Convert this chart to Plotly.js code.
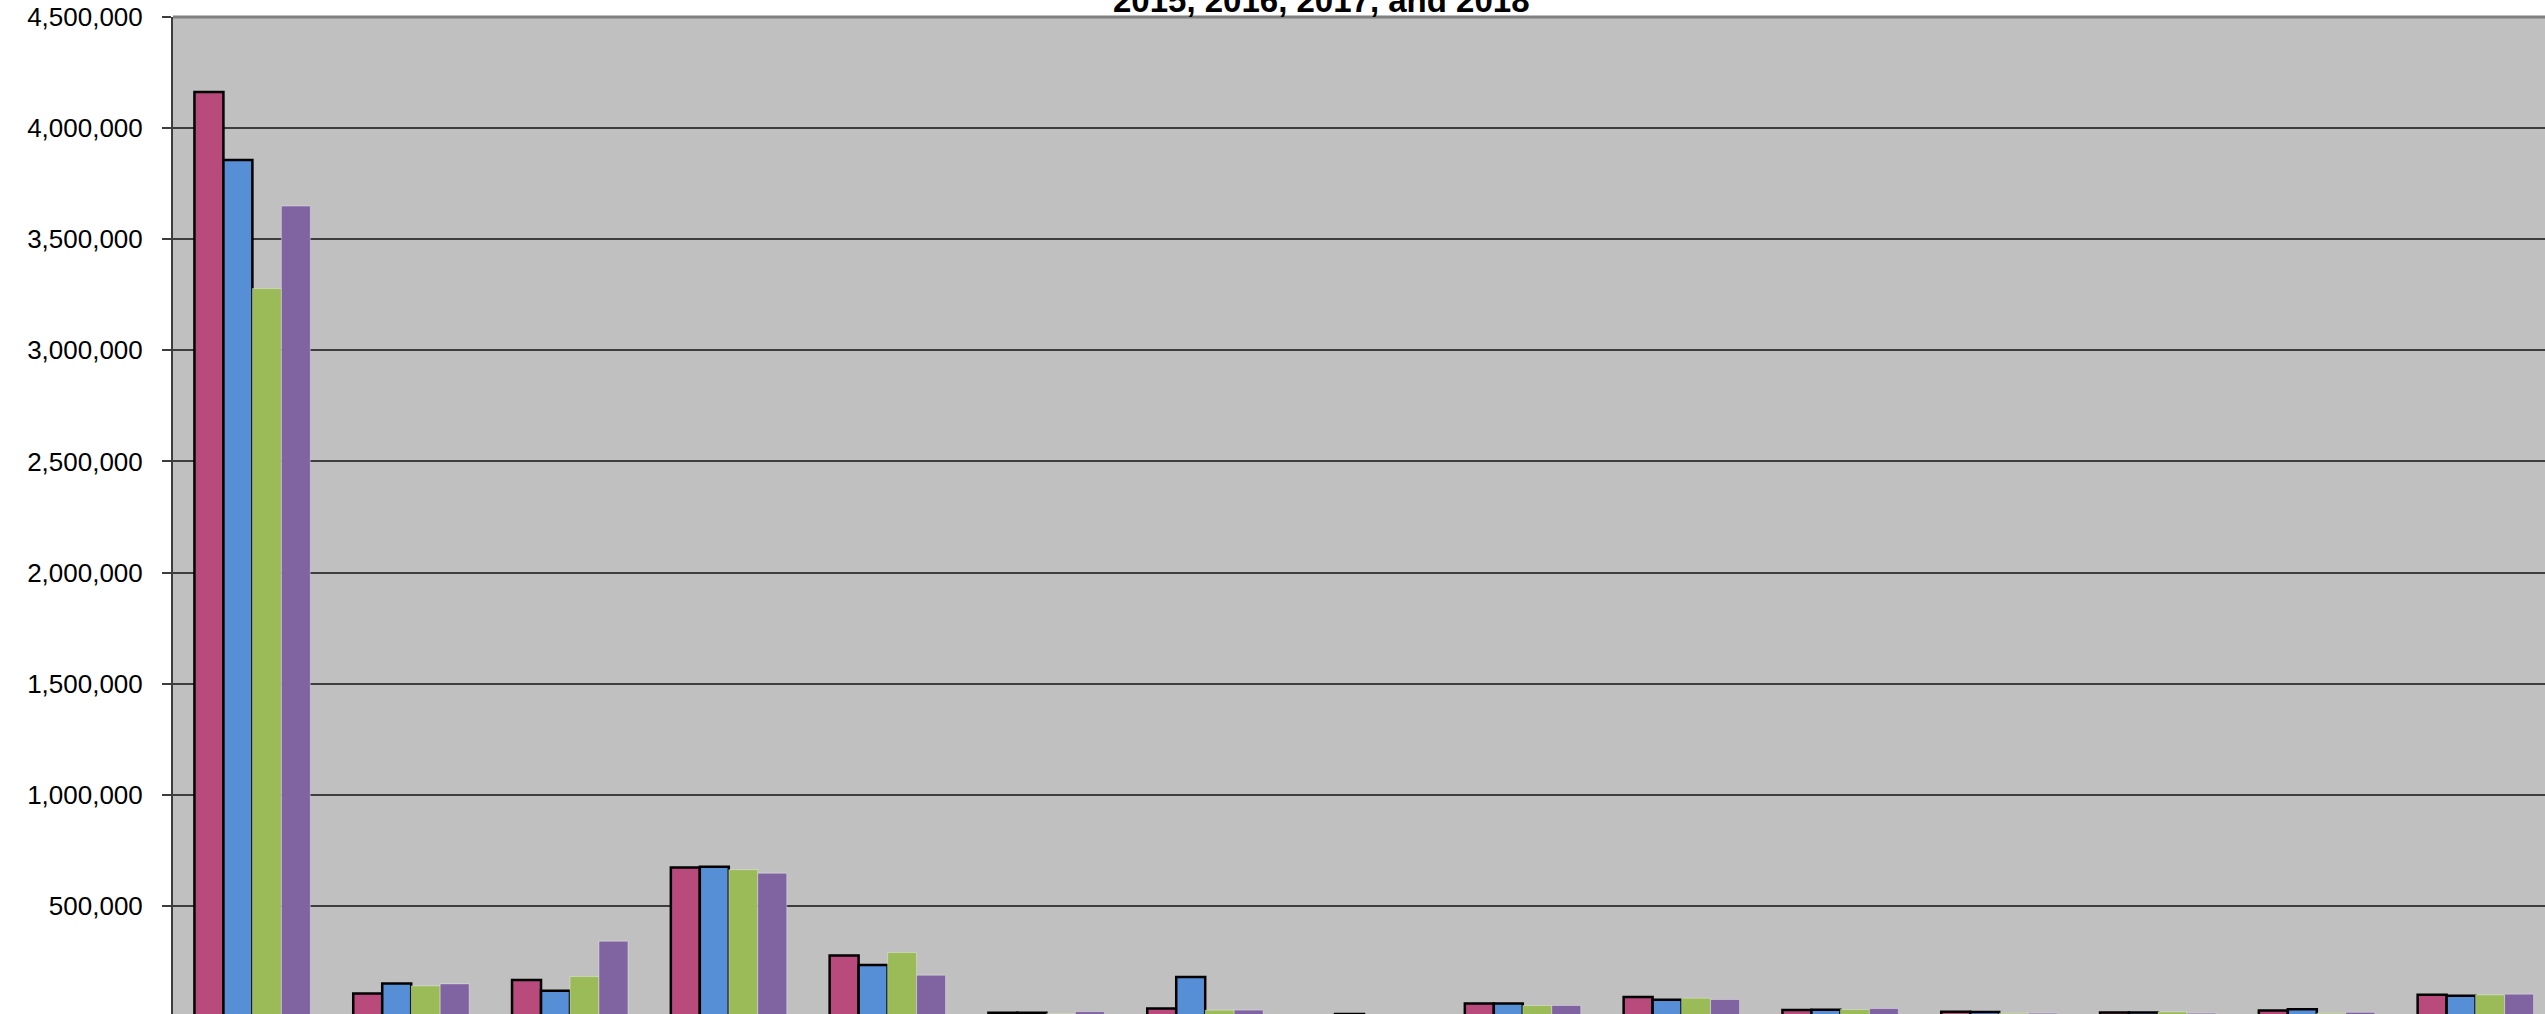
<!DOCTYPE html>
<html>
<head>
<meta charset="utf-8">
<script src="https://cdn.plot.ly/plotly-3.0.1.min.js"></script>
<style>
  html, body { margin: 0; padding: 0; background: #ffffff; overflow: hidden; width: 2545px; height: 1014px; }
  #chart { position: absolute; left: 0; top: -100px; width: 2600px; height: 1200px; }
</style>
</head>
<body>
<div id="chart"></div>
<script>
// Category labels are cut off in the reference (below the visible area)
const categories = ["Group 1","Group 2","Group 3","Group 4","Group 5","Group 6","Group 7","Group 8",
                    "Group 9","Group 10","Group 11","Group 12","Group 13","Group 14","Group 15"];
const seriesNames = ["2015","2016","2017","2018"];
const values2015 = [4162000, 106000, 166000, 673000, 277000, 19000, 38000, 3000, 61000, 90000, 32000, 24000, 20000, 29000, 100000];
const values2016 = [3856000, 151000, 118000, 676000, 234000, 19000, 180000, 13000, 61000, 78000, 33000, 23000, 20000, 35000, 96000];
const values2017 = [3278000, 140000, 182000, 663000, 290000, 15000, 30600, 3000, 51750, 84600, 33600, 17000, 23000, 17000, 99500];
const values2018 = [3649000, 149000, 341000, 647000, 188000, 24000, 31000, 3000, 51750, 78750, 38000, 17000, 17000, 21000, 102600];
const titleText = "2015, 2016, 2017, and 2018";
// the 0 tick sits below the visible edge in the reference
const yTickVals = [500000, 1000000, 1500000, 2000000, 2500000, 3000000, 3500000, 4000000, 4500000];

const fills = ["#B84A7C", "#568FD6", "#9BBB59", "#8064A2"];
const outlines = [
  {color: "#000000", width: 2.5},
  {color: "#000000", width: 2.5},
  {color: "rgba(255,255,255,0.35)", width: 1},
  {color: "rgba(255,255,255,0.35)", width: 1}
];
const allValues = [values2015, values2016, values2017, values2018];

const traces = allValues.map((vals, i) => ({
  type: "bar",
  name: seriesNames[i],
  x: categories,
  y: vals,
  marker: { color: fills[i], line: outlines[i] }
}));

const layout = {
  width: 2600,
  height: 1200,
  margin: { l: 173, r: 45, t: 116.5, b: 83.2 },
  paper_bgcolor: "#ffffff",
  plot_bgcolor: "#C0C0C0",
  showlegend: false,
  barmode: "group",
  bargap: 0.27,
  bargroupgap: 0,
  font: { family: "Liberation Sans, Arial, sans-serif", color: "#000000" },
  xaxis: {
    type: "category",
    showgrid: false,
    zeroline: false,
    showline: false,
    ticks: "",
    showticklabels: true,
    ticklabelstandoff: 6,
    tickfont: { size: 22, color: "#000000" }
  },
  yaxis: {
    range: [0, 4500000],
    tickvals: yTickVals,
    tickformat: ",d",
    showgrid: true,
    gridcolor: "#3d3d3d",
    gridwidth: 2,
    zeroline: false,
    showline: true,
    linecolor: "#3d3d3d",
    linewidth: 2,
    ticks: "outside",
    ticklen: 9,
    tickwidth: 2,
    tickcolor: "#3d3d3d",
    ticklabelstandoff: 14,
    tickfont: { size: 26, color: "#000000" }
  },
  shapes: [
    { type: "line", xref: "paper", yref: "paper", x0: 0, x1: 1, y0: 1, y1: 1,
      line: { color: "#808080", width: 3 } }
  ],
  annotations: [
    { text: "<b>" + titleText + "</b>", xref: "paper", yref: "paper",
      x: (1321 - 173) / 2382, y: 1, xanchor: "center", yanchor: "bottom",
      yshift: -4, showarrow: false, font: { size: 33, color: "#000000" } }
  ]
};

Plotly.newPlot("chart", traces, layout, { staticPlot: true, displayModeBar: false });
</script>
</body>
</html>
